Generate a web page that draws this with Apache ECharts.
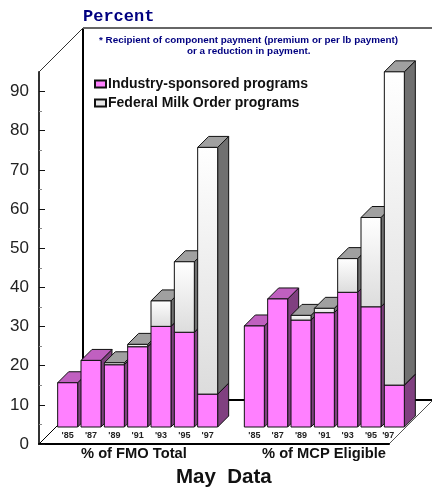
<!DOCTYPE html>
<html lang="en">
<head>
<meta charset="UTF-8">
<title>May Data</title>
<style>
    * { margin: 0; padding: 0; }
    #chart { width: 432px; height: 487px; background: #fff; }
</style>
<script src="https://cdn.jsdelivr.net/npm/echarts@6/dist/echarts.min.js"></script>
</head>
<body>
<div id="chart"></div>
<script>
var years = ["'85", "'87", "'89", "'91", "'93", "'95", "'97"];
var fmoIndustry = [11.3, 17.0, 15.9, 20.5, 25.7, 24.2, 8.4];
var fmoFederal = [0, 0, 0.5, 0.6, 6.5, 18.0, 63.0];
var mcpIndustry = [25.8, 32.7, 27.3, 29.2, 34.4, 30.7, 10.7];
var mcpFederal = [0, 0, 1.2, 1.1, 8.6, 22.8, 80.0];
var yTicks = [0, 10, 20, 30, 40, 50, 60, 70, 80, 90];

// layout of the fake 3d box
var left = 39, top0 = 72, plotW = 350, plotH = 372;
var floorDepth = 17; // bars stand this far back on the floor
var wallDepth = 44;
var barDepth = 11;
var bottom0 = top0 + plotH;

var categories = years.concat(['']).concat(years); // blank slot between the two groups
var industry = fmoIndustry.concat([null]).concat(mcpIndustry);
var federal = fmoFederal.concat([null]).concat(mcpFederal);

var industryData = [], federalData = [];
categories.forEach(function (c, i) {
    if (industry[i] === null) return;
    industryData.push([i, 0, industry[i]]);
    federalData.push([i, industry[i], industry[i] + federal[i]]);
});

function poly(points, fill, z2) {
    return {
        type: 'polygon',
        z2: z2,
        shape: { points: points },
        style: { fill: fill, stroke: '#111', lineWidth: 1 }
    };
}

function makeRender(front, topFace, sideFace, order) {
    return function (params, api) {
        var cat = api.value(0), from = api.value(1), to = api.value(2);
        if (!(to > from)) return null;
        var lo = api.coord([cat, from]), hi = api.coord([cat, to]);
        var w = api.size([1, 0])[0] * 0.857;
        var x0 = lo[0] - w / 2, x1 = lo[0] + w / 2;
        var y0 = lo[1], y1 = hi[1];
        var d = barDepth;
        var z2 = cat * 10 + order;
        return {
            type: 'group',
            children: [
                poly([[x1, y0], [x1 + d, y0 - d], [x1 + d, y1 - d], [x1, y1]], sideFace, z2),
                poly([[x0, y1], [x0 + d, y1 - d], [x1 + d, y1 - d], [x1, y1]], topFace, z2),
                poly([[x0, y0], [x1, y0], [x1, y1], [x0, y1]], front, z2 + 1)
            ]
        };
    };
}

var chart = echarts.init(document.getElementById('chart'));

var labelFont = 'Liberation Sans';
var option = {
    animation: false,
    backgroundColor: '#fff',
    textStyle: { fontFamily: labelFont },
    grid: [
        { left: left, top: top0, width: plotW, height: plotH },
        { left: left + floorDepth, top: top0 - floorDepth, width: plotW, height: plotH }
    ],
    legend: {
        orient: 'vertical',
        left: 89,
        top: 72,
        itemWidth: 11,
        itemHeight: 7,
        itemGap: 5,
        icon: 'rect',
        textStyle: { fontFamily: labelFont, fontWeight: 'bold', fontSize: 14, color: '#111', padding: [0, 0, 0, -3] },
        data: ['Industry-sponsored programs', 'Federal Milk Order programs']
    },
    xAxis: [
        {
            type: 'category', gridIndex: 0, data: categories,
            axisLine: { lineStyle: { color: '#000', width: 2 } },
            axisTick: { show: false }, axisLabel: { show: false }
        },
        {
            type: 'category', gridIndex: 1, data: categories,
            axisLine: { show: false }, axisTick: { show: false },
            axisLabel: { interval: 0, margin: 4, fontSize: 9, fontWeight: 'bold', color: '#222', alignMaxLabel: 'right' }
        }
    ],
    yAxis: [
        {
            type: 'value', gridIndex: 0, min: 0, max: 95, interval: 10,
            splitLine: { show: false },
            axisLine: { show: true, lineStyle: { color: '#333', width: 2 } },
            axisTick: { show: true, inside: true, length: 6, customValues: yTicks, lineStyle: { color: '#111' } },
            minorTick: { show: true, splitNumber: 2, length: 3, lineStyle: { color: '#888' } },
            axisLabel: { customValues: yTicks, margin: 10, fontSize: 17, color: '#222', padding: [5, 0, 0, 0] }
        },
        {
            type: 'value', gridIndex: 1, min: 0, max: 95, interval: 10,
            show: false, splitLine: { show: false }
        }
    ],
    graphic: [
        // back wall, left wall, floor edges
        { type: 'line', z: 0, shape: { x1: left + wallDepth, y1: top0 - wallDepth, x2: left + wallDepth, y2: bottom0 - wallDepth }, style: { stroke: '#000', lineWidth: 2 } },
        { type: 'line', z: 0, shape: { x1: left + wallDepth, y1: top0 - wallDepth, x2: 432, y2: top0 - wallDepth }, style: { stroke: '#666', lineWidth: 2 } },
        { type: 'line', z: 0, shape: { x1: left, y1: top0, x2: left + wallDepth, y2: top0 - wallDepth }, style: { stroke: '#333', lineWidth: 1 } },
        { type: 'line', z: 0, shape: { x1: left, y1: bottom0, x2: left + wallDepth, y2: bottom0 - wallDepth }, style: { stroke: '#000', lineWidth: 1 } },
        { type: 'line', z: 0, shape: { x1: left + wallDepth, y1: bottom0 - wallDepth, x2: 432, y2: bottom0 - wallDepth }, style: { stroke: '#000', lineWidth: 2 } },
        { type: 'line', z: 0, shape: { x1: left + plotW, y1: bottom0, x2: left + plotW + wallDepth, y2: bottom0 - wallDepth }, style: { stroke: '#555', lineWidth: 1 } },
        // texts
        { type: 'text', left: 83, top: 8, style: { text: 'Percent', fill: '#000080', font: 'bold 17px "Liberation Mono"' } },
        { type: 'text', left: 99, top: 35, style: { text: '* Recipient of component payment (premium or per lb payment)', fill: '#000080', font: 'bold 9.9px "Liberation Sans"' } },
        { type: 'text', left: 187, top: 46, style: { text: 'or a reduction in payment.', fill: '#000080', font: 'bold 9.9px "Liberation Sans"' } },
        { type: 'text', left: 81, top: 446, style: { text: '% of FMO Total', fill: '#111', font: 'bold 14.7px "Liberation Sans"' } },
        { type: 'text', left: 262, top: 446, style: { text: '% of MCP Eligible', fill: '#111', font: 'bold 14.7px "Liberation Sans"' } },
        { type: 'text', left: 176, top: 467, style: { text: 'May  Data', fill: '#111', font: 'bold 20.5px "Liberation Sans"' } }
    ],
    series: [
        {
            name: 'Industry-sponsored programs',
            type: 'custom',
            xAxisIndex: 1, yAxisIndex: 1,
            itemStyle: { color: '#ff80ff', borderColor: '#111', borderWidth: 1 },
            renderItem: makeRender('#ff80ff', '#c060c0', '#804080', 0),
            encode: { x: 0, y: 2 },
            data: industryData
        },
        {
            name: 'Federal Milk Order programs',
            type: 'custom',
            xAxisIndex: 1, yAxisIndex: 1,
            itemStyle: { color: '#e8e8e8', borderColor: '#111', borderWidth: 1 },
            renderItem: makeRender(new echarts.graphic.LinearGradient(0, 0, 0, 1, [
                { offset: 0, color: '#ffffff' },
                { offset: 1, color: '#dcdcdc' }
            ]), '#a0a0a0', '#707070', 5),
            encode: { x: 0, y: 2 },
            data: federalData
        }
    ]
};
chart.setOption(option);
</script>
</body>
</html>
